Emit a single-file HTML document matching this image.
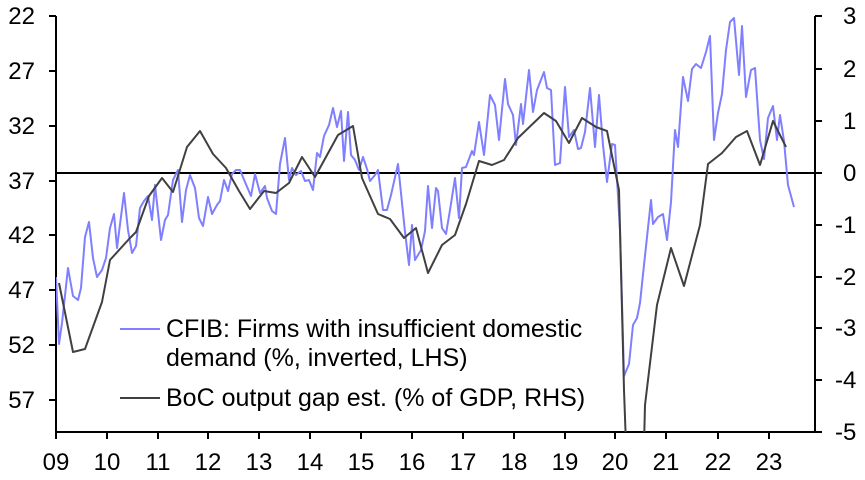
<!DOCTYPE html>
<html><head><meta charset="utf-8"><style>
body{margin:0;background:#fff}
svg text{font-family:"Liberation Sans",Arial,sans-serif;font-size:24px;fill:#000}
svg text.lg{font-size:25px}
</style></head><body>
<svg width="865" height="475" viewBox="0 0 865 475" xmlns="http://www.w3.org/2000/svg">
<defs><clipPath id="c"><rect x="56" y="0" width="760" height="432"/></clipPath></defs>
<g stroke="#000" stroke-width="2" fill="none">
<line x1="56" y1="16" x2="56" y2="433"/>
<line x1="815" y1="16" x2="815" y2="433"/>
<line x1="55" y1="432" x2="816" y2="432"/>
<line x1="56" y1="173" x2="815" y2="173"/>
<path d="M49 16H56M49 71H56M49 126H56M49 181H56M49 235H56M49 290H56M49 345H56M49 400H56"/>
<path d="M815 16H822M815 69H822M815 121H822M815 173H822M815 225H822M815 277H822M815 328H822M815 380H822M815 432H822"/>
<path d="M56 432V439M107 432V439M158 432V439M208 432V439M259 432V439M310 432V439M361 432V439M412 432V439M463 432V439M514 432V439M565 432V439M615 432V439M666 432V439M718 432V439M769 432V439"/>
</g>
<g text-anchor="end">
<text x="35" y="24">22</text><text x="35" y="79">27</text><text x="35" y="134">32</text><text x="35" y="189">37</text><text x="35" y="243">42</text><text x="35" y="298">47</text><text x="35" y="353">52</text><text x="35" y="408">57</text>
</g>
<g text-anchor="start">
<text x="843" y="24">3</text><text x="843" y="77">2</text><text x="843" y="129">1</text><text x="843" y="181">0</text><text x="835" y="233">-1</text><text x="835" y="285">-2</text><text x="835" y="336">-3</text><text x="835" y="388">-4</text><text x="835" y="440">-5</text>
</g>
<g text-anchor="middle">
<text x="56" y="470">09</text><text x="107" y="470">10</text><text x="158" y="470">11</text><text x="208" y="470">12</text><text x="259" y="470">13</text><text x="310" y="470">14</text><text x="361" y="470">15</text><text x="412" y="470">16</text><text x="463" y="470">17</text><text x="514" y="470">18</text><text x="565" y="470">19</text><text x="615" y="470">20</text><text x="666" y="470">21</text><text x="718" y="470">22</text><text x="769" y="470">23</text>
</g>
<g clip-path="url(#c)" fill="none" stroke-width="2" stroke-linejoin="round">
<polyline stroke="#7f7fff" points="56,277 59,344 62,323 68,268 73,296 78,300 81,288 85,237 89,222 93,258 97,277 102,270 106,258 110,228 114,214 117,248 124,193 128,230 132,253 136,246 140,208 144,201 148,196 152,220 155,185 161,240 165,220 168,215 173,180 178,170 182,222 186,190 190,175 195,188 199,218 203,226 208,197 212,214 217,205 220,201 224,180 228,191 232,174 236,170 240,170 245,182 251,196 255,174 260,193 265,186 267,198 272,211 276,214 280,164 285,138 289,180 292,168 296,175 301,171 305,181 309,180 313,190 317,153 320,157 324,136 329,125 333,108 337,127 341,111 344,161 348,112 351,155 355,160 359,170 363,157 367,169 370,181 375,175 378,170 383,210 387,210 391,195 398,164 405,232 409,265 412,225 415,260 421,250 425,231 428,186 432,228 436,188 438,191 442,228 446,234 450,210 455,178 459,218 462,168 466,167 472,151 474,155 479,122 484,155 490,95 495,105 499,140 505,79 508,104 513,115 516,145 521,104 523,124 529,70 533,112 537,90 544,72 547,88 551,90 555,165 560,163 565,87 569,137 574,130 578,149 581,148 585,132 590,88 595,147 599,95 603,145 607,182 612,144 615,145 620,230 624,376 629,364 633,325 637,318 640,303 644,265 651,200 653,224 658,217 663,214 667,240 671,202 675,130 678,147 683,77 688,101 692,69 696,64 701,68 706,52 710,36 714,140 718,113 722,94 726,50 730,22 734,18 739,75 742,26 746,97 751,70 755,68 760,140 764,159 768,118 773,106 777,140 780,115 784,141 788,185 794,207"/>
<polyline stroke="#404040" points="59,283 73,352 85,349 102,302 110,260 130,238 136,232 149,196 162,178 173,192 187,147 200,131 213,154 226,168 239,191 250,209 264,191 276,193 289,183 302,157 315,177 338,135 353,126 362,178 378,214 390,219 404,238 416,228 428,273 442,245 455,235 466,204 479,161 492,165 504,160 518,138 544,113 556,121 569,143 582,118 596,127 607,131 619,190 624,390 626,445 644,445 645,405 657,305 671,248 684,286 700,225 708,164 722,153 736,137 747,131 760,165 773,121 786,147"/>
</g>
<line x1="120" y1="329" x2="160" y2="329" stroke="#7f7fff" stroke-width="2"/>
<line x1="120" y1="398" x2="160" y2="398" stroke="#404040" stroke-width="2"/>
<text class="lg" x="166" y="337">CFIB: Firms with insufficient domestic</text>
<text class="lg" x="166" y="366">demand (%, inverted, LHS)</text>
<text class="lg" x="166" y="406">BoC output gap est. (% of GDP, RHS)</text>
</svg>
</body></html>
